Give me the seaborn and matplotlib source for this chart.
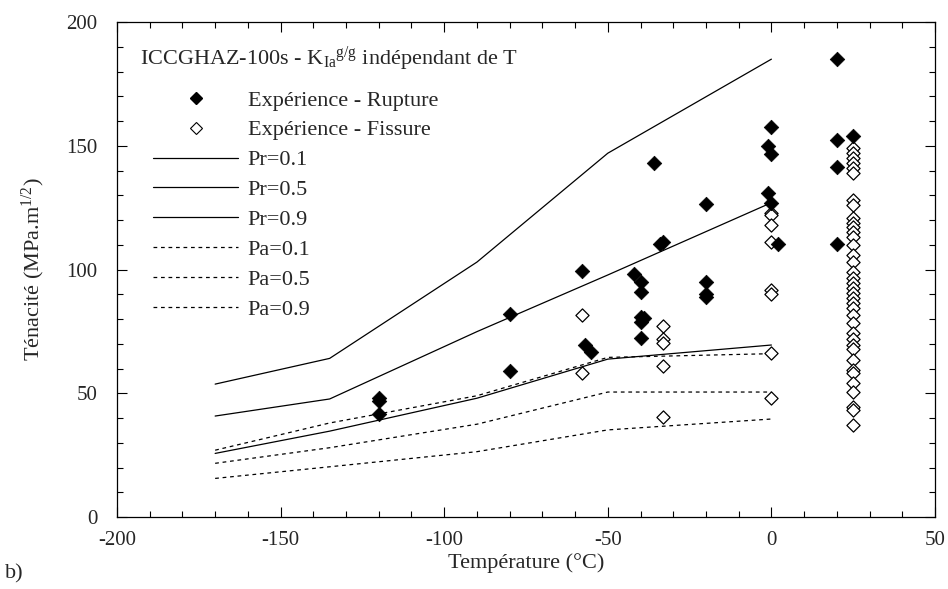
import numpy as np
import pandas as pd
import seaborn as sns
import matplotlib.pyplot as plt
from matplotlib.lines import Line2D
from matplotlib.ticker import MultipleLocator

# --- data ---
curve_T = [-170, -135, -90, -50, 0]
pr01 = [53.7, 64.1, 103, 147, 185]
pr05 = [40.8, 47.7, 74.9, 97.8, 127]
pr09 = [25.7, 34.7, 48, 63.8, 69.5]
pa09 = [27, 38, 49, 64.5, 66]
pa05 = [21.7, 28, 37.5, 50.5, 50.5]
pa01 = [15.6, 20.3, 26.4, 35.2, 39.6]

rupture_T = [-120, -120, -120, -80, -80, -58, -57, -55, -42, -40, -40, -40, -39, -40, -40,
             -36, -34, -33, -20, -20, -20, -20, -1, 0, 0, -1, 0, 2, 20, 20, 20, 20, 25]
rupture_K = [48, 47, 41.5, 82, 59, 99.5, 69.5, 66.5, 98, 95, 91, 81, 80.5, 79, 72.5,
             143, 110.5, 111, 126.5, 95, 90, 89, 150, 157.5, 146.5, 131, 127, 110.3,
             185, 152.5, 141.5, 110.5, 154]

fissure_T = [-58, -58, -33, -33, -33, -33, -33, 0, 0, 0, 0, 0, 0, 0, 0] + [25] * 38
fissure_K = [81.6, 58, 77, 72, 70.5, 61, 40.5, 123, 122, 118, 111, 91.7, 90, 66.3, 48,
             149, 147, 145, 143, 141, 139, 128, 126, 121, 119, 117, 115, 113, 110, 106,
             103, 99, 96.6, 94.5, 92.5, 90.5, 88.5, 86.5, 84.4, 81.6, 78.4, 74.5, 72,
             69.5, 68, 63.4, 59.4, 58, 54, 50.5, 44.4, 43.2, 37.2]

curves = {"Pr=0.1": pr01, "Pr=0.5": pr05, "Pr=0.9": pr09,
          "Pa=0.1": pa01, "Pa=0.5": pa05, "Pa=0.9": pa09}

sns.set_theme(style="ticks")
plt.rcParams["font.family"] = ["Liberation Serif", "DejaVu Serif"]
plt.rcParams["mathtext.fontset"] = "custom"
plt.rcParams["mathtext.rm"] = "Liberation Serif"
plt.rcParams["mathtext.it"] = "Liberation Serif:italic"
plt.rcParams["axes.unicode_minus"] = False

fig = plt.figure(figsize=(9.48, 5.89), dpi=100)
ax = fig.add_axes([0.1234, 0.1222, 0.8629, 0.8404])

dash = (0, (3, 3))
for name, vals in curves.items():
    ls = "-" if name.startswith("Pr") else dash
    sns.lineplot(x=curve_T, y=vals, ax=ax, color="black", lw=0.9, linestyle=ls,
                 legend=False, sort=False)

sns.scatterplot(x=fissure_T, y=fissure_K, ax=ax, marker="D", s=45, color="white",
                edgecolor="black", linewidth=0.9, legend=False, zorder=3)
sns.scatterplot(x=rupture_T, y=rupture_K, ax=ax, marker="D", s=55, color="black",
                edgecolor="black", linewidth=0.5, legend=False, zorder=4)

ax.set_xlim(-200, 50)
ax.set_ylim(0, 200)
ax.xaxis.set_major_locator(MultipleLocator(50))
ax.xaxis.set_minor_locator(MultipleLocator(10))
ax.yaxis.set_major_locator(MultipleLocator(50))
ax.yaxis.set_minor_locator(MultipleLocator(10))
ax.tick_params(which="both", direction="in", top=True, right=True, width=0.8, color="black")
ax.tick_params(which="major", length=7, labelsize=15)
ax.tick_params(which="minor", length=4)
ax.tick_params(axis="x", pad=10)
ax.tick_params(axis="y", pad=14)
for s in ax.spines.values():
    s.set_linewidth(0.9)
    s.set_color("black")

ax.set_xlabel("Température (°C)", fontsize=16, labelpad=2)
ax.set_ylabel("Ténacité (MPa.m$^{1/2}$)", fontsize=16, labelpad=14)
fig.text(0.005, 0.018, "b)", fontsize=16)

ax.text(0.028, 0.925, "ICCGHAZ-100s - K$_{\\mathrm{Ia}}$$^{\\mathrm{g/g}}$ indépendant de T",
        transform=ax.transAxes, fontsize=16, va="center", ha="left")

handles = [
    Line2D([], [], ls="none", marker="D", color="black", markersize=6),
    Line2D([], [], ls="none", marker="D", markerfacecolor="white", markeredgecolor="black",
           markersize=6, markeredgewidth=0.8),
]
labels = ["Expérience - Rupture", "Expérience - Fissure"]
for name in curves:
    ls = "-" if name.startswith("Pr") else dash
    handles.append(Line2D([], [], color="black", lw=0.9, linestyle=ls))
    labels.append(name)

leg = ax.legend(handles, labels, loc="upper left", bbox_to_anchor=(0.02, 0.903),
                frameon=False, fontsize=16, handlelength=3.8, handletextpad=0.45,
                labelspacing=0.42, borderpad=0.4)

fig.savefig("out.png", dpi=100)
